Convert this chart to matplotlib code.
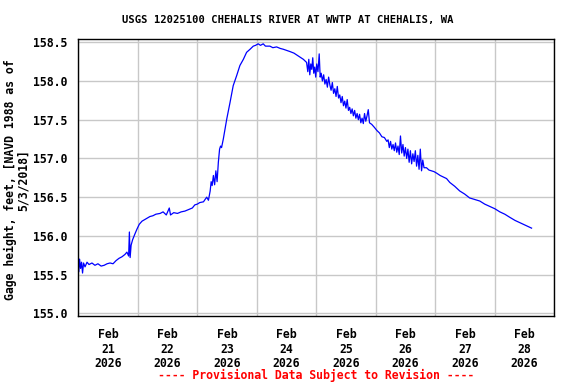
import datetime as dt

import matplotlib
matplotlib.use("Agg")
import matplotlib.pyplot as plt
import matplotlib.dates as mdates

TITLE = "USGS 12025100 CHEHALIS RIVER AT WWTP AT CHEHALIS, WA"
YLABEL = "Gage height, feet, [NAVD 1988 as of\n5/3/2018]"
NOTE = "---- Provisional Data Subject to Revision ----"

START = dt.datetime(2026, 2, 21)
DAYS = ["21", "22", "23", "24", "25", "26", "27", "28"]
YTICKS = [155.0, 155.5, 156.0, 156.5, 157.0, 157.5, 158.0, 158.5]

# hours after Feb 21 00:00
hours = [
    0.2, 0.5, 0.9, 1.3, 1.7, 2.1, 2.7, 3.5, 4.3, 5.5, 6.7, 7.9, 9.2, 10.4,
    11.6, 12.8, 14.0, 15.2, 16.4, 17.6, 18.8, 19.6, 20.3, 20.6, 20.9, 21.3,
    21.9, 22.9, 23.7, 24.6, 25.7, 27.3, 28.9, 30.1, 31.3, 33.0, 34.2, 35.5,
    36.7, 37.2, 38.5, 40.0, 41.5, 43.0, 44.5, 46.0, 47.0, 48.0, 49.0, 50.5,
    51.8, 52.5, 53.2, 53.6, 54.0, 54.5, 55.0, 55.5, 56.0, 56.5, 57.0, 57.4,
    57.8, 58.5, 59.2, 59.9, 61.2, 62.5, 63.9, 65.2, 66.6, 67.9, 69.3, 70.6,
    71.5, 72.6, 73.5, 74.6, 75.5, 77.3, 78.5, 80.0, 81.5, 82.7, 85.4, 87.0,
    89.4, 90.8, 92.1, 92.6, 93.0, 93.4, 93.8, 94.2, 94.6, 95.0, 95.4, 95.8,
    96.2, 96.7, 97.2, 97.6, 98.0, 98.5, 99.0, 99.5, 100.0, 100.5, 101.0,
    101.5, 102.0, 102.5, 103.0, 103.5, 104.0, 104.5, 105.0, 105.5, 106.0,
    106.5, 107.0, 107.5, 108.0, 108.5, 109.0, 109.5, 110.0, 110.5, 111.0,
    111.5, 112.0, 112.5, 113.0, 113.5, 114.0, 114.5, 115.0, 115.5, 116.0,
    116.5, 117.0, 117.5, 118.4, 119.5, 120.5, 121.5, 122.5, 123.5, 124.5,
    125.0, 125.5, 126.0, 126.5, 127.0, 127.5, 128.0, 128.5, 129.0, 129.5,
    130.0, 130.5, 131.0, 131.5, 132.0, 132.5, 133.0, 133.5, 134.0, 134.5,
    135.0, 135.5, 136.0, 136.5, 137.0, 137.5, 138.0, 138.5, 139.0, 139.5,
    140.5, 141.5, 142.5, 143.5, 144.6, 146.0, 148.6, 149.9, 151.9, 153.9,
    155.9, 157.9, 160.0, 162.0, 164.0, 166.1, 168.1, 170.1, 172.1, 174.1,
    176.2, 178.2, 180.9, 182.9,
]

gage_ft = [
    155.54, 155.70, 155.58, 155.66, 155.52, 155.65, 155.60, 155.66, 155.63,
    155.65, 155.62, 155.64, 155.61, 155.62, 155.64, 155.65, 155.64, 155.68,
    155.71, 155.73, 155.76, 155.79, 155.74, 156.05, 155.72, 155.88, 155.95,
    156.03, 156.09, 156.15, 156.19, 156.22, 156.25, 156.26, 156.28, 156.29,
    156.31, 156.27, 156.36, 156.27, 156.30, 156.29, 156.31, 156.32, 156.34,
    156.36, 156.40, 156.41, 156.43, 156.44, 156.50, 156.46, 156.58, 156.70,
    156.65, 156.78, 156.66, 156.84, 156.70, 156.95, 157.12, 157.16, 157.14,
    157.25, 157.38, 157.51, 157.72, 157.94, 158.07, 158.20, 158.28, 158.37,
    158.41, 158.45, 158.46, 158.48, 158.46, 158.48, 158.45, 158.45, 158.43,
    158.44, 158.42, 158.41, 158.38, 158.36, 158.31, 158.28, 158.24, 158.12,
    158.28, 158.08, 158.22, 158.15, 158.30, 158.10, 158.18, 158.05, 158.22,
    158.12, 158.35, 158.05, 158.10, 158.00, 158.08, 157.96, 158.02, 157.92,
    158.05, 157.95, 157.88, 157.98, 157.84, 157.90, 157.80, 157.93, 157.78,
    157.82, 157.72, 157.80, 157.68, 157.74, 157.65, 157.76, 157.62, 157.66,
    157.58, 157.64, 157.55, 157.62, 157.52, 157.58, 157.50, 157.57, 157.46,
    157.52, 157.45, 157.58, 157.48, 157.55, 157.63, 157.46, 157.44, 157.40,
    157.36, 157.33, 157.28, 157.27, 157.22, 157.24, 157.14, 157.22, 157.12,
    157.18, 157.10, 157.20, 157.08, 157.16, 157.05, 157.29, 157.07, 157.18,
    157.03, 157.14, 157.00, 157.12, 156.95, 157.10, 156.93, 157.06, 156.96,
    157.10, 156.90, 157.04, 156.86, 157.12, 156.84, 156.98, 156.88, 156.88,
    156.85, 156.84, 156.83, 156.81, 156.78, 156.74, 156.69, 156.64, 156.58,
    156.54, 156.49, 156.47, 156.45, 156.41, 156.38, 156.35, 156.31, 156.28,
    156.24, 156.20, 156.17, 156.13, 156.10,
]

FONT = "DejaVu Sans Mono"
FS = 8.3

times = [START + dt.timedelta(hours=h) for h in hours]

fig = plt.figure(figsize=(5.76, 3.84), dpi=100)
ax = fig.add_axes([0.136, 0.178, 0.826, 0.720])

ax.plot(times, gage_ft, color="#0000ff", lw=0.9)

ax.set_xlim(START, START + dt.timedelta(days=8))
ax.set_ylim(154.97, 158.54)

# gridlines at midnight, labels at noon
ax.xaxis.set_major_locator(mdates.DayLocator())
ax.xaxis.set_major_formatter(plt.NullFormatter())
noon = [START + dt.timedelta(days=i, hours=12) for i in range(len(DAYS))]
ax.set_xticks(noon, minor=True)
ax.set_xticklabels(["Feb\n%s\n2026" % d for d in DAYS], minor=True,
                   fontfamily=FONT, fontweight="bold", fontsize=FS,
                   linespacing=1.15)
ax.set_yticks(YTICKS)
ax.set_yticklabels(["%.1f" % v for v in YTICKS], fontfamily=FONT,
                   fontweight="bold", fontsize=FS)
ax.tick_params(which="both", length=0)
ax.tick_params(axis="x", which="minor", pad=9)
ax.tick_params(axis="y", pad=8)

ax.grid(True, which="major", color="#c8c8c8", lw=1.0)
ax.set_axisbelow(True)
for s in ax.spines.values():
    s.set_linewidth(1.0)
    s.set_color("black")

# y label placed by hand so the long first line stays inside the figure
fig.text(17 / 576, 1 - 180 / 384, YLABEL, rotation=90, ha="center",
         va="center", multialignment="center", fontfamily=FONT,
         fontweight="bold", fontsize=FS, linespacing=1.0)

fig.text(0.5, 1 - 20 / 384, TITLE, ha="center", va="center",
         fontfamily=FONT, fontweight="bold", fontsize=7.6)
fig.text(315.7 / 576, 1 - 375 / 384, NOTE, ha="center", va="center",
         color="#ff0000", fontfamily=FONT, fontweight="bold", fontsize=FS)

fig.savefig("out.png", dpi=100)
